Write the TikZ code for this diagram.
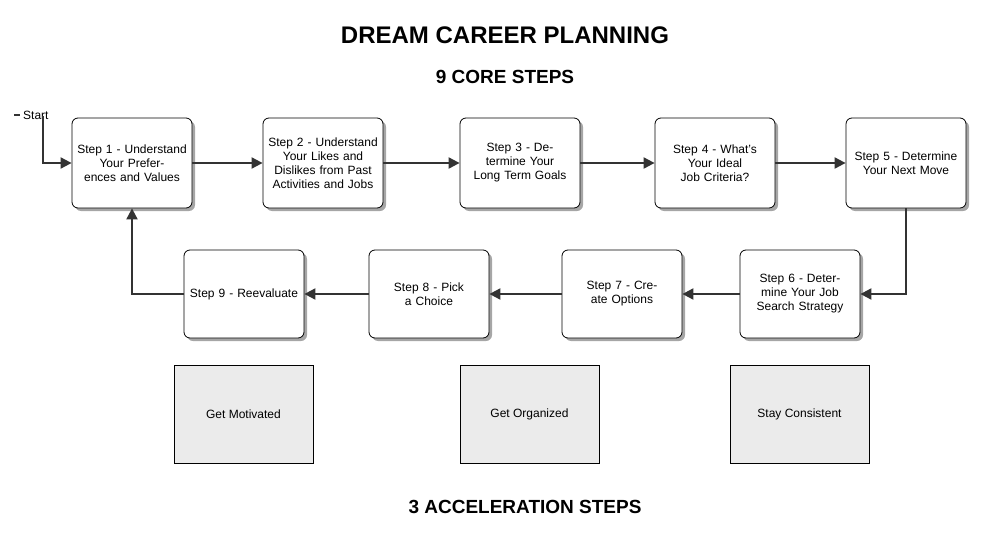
\documentclass[tikz,border=0pt]{standalone}
\usepackage{fontspec}
\setmainfont{Liberation Sans}
\usetikzlibrary{arrows.meta}
\definecolor{ln}{HTML}{333333}
\tikzset{
 stepbox/.style={draw=black,fill=white,rounded corners=6pt,minimum width=120pt,minimum height=90pt,align=center,text width=112pt,font=\fontsize{12}{14}\selectfont,line width=0.8pt,
  preaction={fill=black!35,transform canvas={xshift=3pt,yshift=-3pt}}},
 accbox/.style={draw=black,fill=black!8,minimum width=139pt,minimum height=98pt,font=\fontsize{12}{14}\selectfont,line width=0.8pt},
 conn/.style={draw=ln,line width=2pt,-{Triangle[length=11pt,width=11pt]}},
}
\begin{document}
\begin{tikzpicture}[x=1pt,y=-1pt]
\useasboundingbox (0,0) rectangle (1005,546);
\node[font=\bfseries\fontsize{24}{28}\selectfont] (t) at (505,35) {DREAM CAREER PLANNING};
\node[font=\bfseries\fontsize{19}{22}\selectfont] (s1) at (505,77) {9 CORE STEPS};
\node[font=\bfseries\fontsize{19}{22}\selectfont] (s2) at (525,507) {3 ACCELERATION STEPS};
\node[stepbox] (a1) at (132,163) {Step 1 - Understand Your Preferences and Values};
\node[stepbox] (a2) at (323,163) {Step 2 - Understand Your Likes and Dislikes from Past Activities and Jobs};
\node[stepbox] (a3) at (520,163) {Step 3 - Determine Your Long Term Goals};
\node[stepbox] (a4) at (715,163) {Step 4 - What's Your Ideal Job Criteria?};
\node[stepbox] (a5) at (906,163) {Step 5 - Determine Your Next Move};
\node[stepbox,minimum height=88pt] (a6) at (800,294) {Step 6 - Determine Your Job Search Strategy};
\node[stepbox,minimum height=88pt] (a7) at (622,294) {Step 7 - Create Options};
\node[stepbox,minimum height=88pt] (a8) at (429,294) {Step 8 - Pick a Choice};
\node[stepbox,minimum height=88pt] (a9) at (244,294) {Step 9 - Reevaluate};
\node[accbox] (g1) at (243.5,414) {Get Motivated};
\node[accbox] (g2) at (529.5,414) {Get Organized};
\node[accbox] (g3) at (799.5,414) {Stay Consistent};
\coordinate (st) at (43,116);
\draw[ln,line width=2pt] (14,115) -- (20,115);
\node[anchor=west,inner sep=0pt,font=\fontsize{12}{14}\selectfont] (stt) at (23,115) {Start};
\draw[conn] (st) |- (a1.west);
\draw[conn] (a1) -- (a2);
\draw[conn] (a2) -- (a3);
\draw[conn] (a3) -- (a4);
\draw[conn] (a4) -- (a5);
\draw[conn] (a5.south) |- (a6.east);
\draw[conn] (a6) -- (a7);
\draw[conn] (a7) -- (a8);
\draw[conn] (a8) -- (a9);
\draw[conn] (a9.west) -| (a1.south);
\end{tikzpicture}
\end{document}
